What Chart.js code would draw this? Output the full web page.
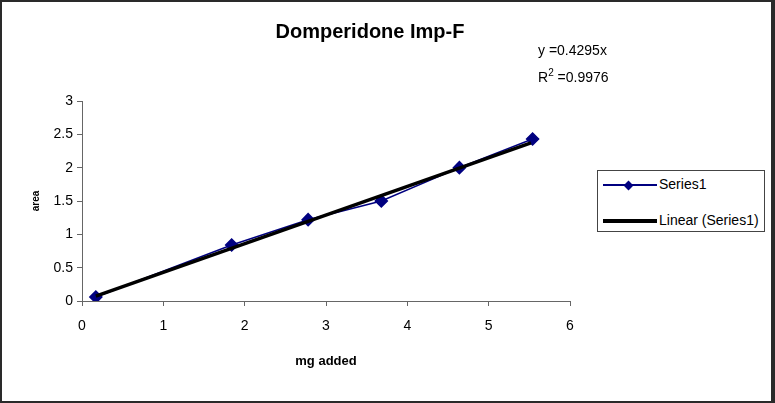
<!DOCTYPE html>
<html>
<head>
<meta charset="utf-8">
<script src="https://cdn.jsdelivr.net/npm/chart.js@4/dist/chart.umd.min.js"></script>
<style>
  body { margin: 0; background: #fff; }
  #wrap { position: relative; width: 775px; height: 403px; font-family: "Liberation Sans", Arial, sans-serif; }
  #frame { position: absolute; left: 0; top: 0; width: 775px; height: 403px; box-sizing: border-box; border: 2px solid #2a2a2a; border-right-width: 4px; pointer-events: none; }
  #title { position: absolute; left: 0; width: 740px; top: 20px; text-align: center; font-weight: bold; font-size: 20px; color: #000; }
  .eq { position: absolute; left: 538px; font-size: 14px; color: #000; }
  #legend { position: absolute; left: 597px; top: 170px; width: 168px; height: 62px; border: 1px solid #444; box-sizing: border-box; background: #fff; font-size: 14px; }
  .item { position: absolute; left: 5px; height: 16px; }
  .line { position: absolute; left: 0; width: 54px; }
  .mark { position: absolute; left: 22px; width: 7px; height: 7px; transform: rotate(45deg); }
  .lab { position: absolute; left: 56px; top: -1px; white-space: nowrap; }
</style>
</head>
<body>
<div id="wrap">
  <canvas id="c" width="775" height="403"></canvas>
  <div id="title">Domperidone Imp-F</div>
  <div class="eq" style="top:42px">y =0.4295x</div>
  <div class="eq" style="top:67px">R<sup style="font-size:10px">2</sup> =0.9976</div>
  <div id="legend"></div>
  <div id="frame"></div>
</div>
<script>
  // measured points
  const mgAdded = [0.17, 1.84, 2.78, 3.68, 4.64, 5.54];
  const areaValues = [0.06, 0.84, 1.22, 1.50, 2.00, 2.43];

  // linear trend line end points (y = 0.4295x)
  const trendX = [0.17, 5.52];
  const trendY = [0.073, 2.371];

  const xTicks = [0, 1, 2, 3, 4, 5, 6];
  const yTicks = [0, 0.5, 1, 1.5, 2, 2.5, 3];

  const seriesPts = mgAdded.map((x, i) => ({ x: x, y: areaValues[i] }));
  const trendPts = trendX.map((x, i) => ({ x: x, y: trendY[i] }));

  const data = {
    datasets: [{
      label: 'Series1',
      data: seriesPts,
      showLine: true,
      borderColor: '#000080',
      backgroundColor: '#000080',
      borderWidth: 1.5,
      pointStyle: 'rectRot',
      pointRadius: 6,
      pointHoverRadius: 6,
      order: 2
    }, {
      label: 'Linear (Series1)',
      data: trendPts,
      showLine: true,
      borderColor: '#000',
      backgroundColor: '#000',
      borderWidth: 3.5,
      pointRadius: 0,
      order: 1
    }]
  };

  const config = {
    type: 'scatter',
    data: data,
    options: {
      responsive: false,
      animation: false,
      layout: { padding: { left: 0, top: 101, right: 205, bottom: 0 } },
      plugins: { legend: { display: false }, tooltip: { enabled: false } },
      scales: {
        x: {
          type: 'linear', min: 0, max: 6,
          afterFit: (s) => { s.height = 102; },
          afterBuildTicks: (s) => { s.ticks = xTicks.map(v => ({ value: v })); },
          grid: { drawOnChartArea: false, drawTicks: true, tickLength: 5, color: '#666' },
          border: { color: '#666', width: 1 },
          ticks: { color: '#000', font: { family: 'Liberation Sans', size: 14 }, padding: 12 },
          title: { display: true, text: 'mg added', color: '#000', font: { family: 'Liberation Sans', size: 13, weight: 'bold' }, padding: { top: 0, bottom: 34 } }
        },
        y: {
          type: 'linear', min: 0, max: 3,
          afterFit: (s) => { s.width = 82; },
          afterBuildTicks: (s) => { s.ticks = yTicks.map(v => ({ value: v })); },
          grid: { drawOnChartArea: false, drawTicks: true, tickLength: 5, color: '#666' },
          border: { color: '#666', width: 1 },
          ticks: { color: '#000', font: { family: 'Liberation Sans', size: 14 }, padding: 4, callback: (v) => String(v) },
          title: { display: true, text: 'area', color: '#000', font: { family: 'Liberation Sans', size: 10, weight: 'bold' }, padding: { top: 30, bottom: 0 } }
        }
      }
    }
  };

  const myChart = new Chart(document.getElementById('c'), config);

  // legend built from the chart datasets
  const leg = document.getElementById('legend');
  myChart.data.datasets.forEach((ds, i) => {
    const it = document.createElement('div');
    it.className = 'item';
    it.style.top = (6 + i * 36) + 'px';
    const ln = document.createElement('div');
    ln.className = 'line';
    ln.style.top = (8 - ds.borderWidth / 2) + 'px';
    ln.style.height = ds.borderWidth + 'px';
    ln.style.background = ds.borderColor;
    it.appendChild(ln);
    if (ds.pointRadius > 0) {
      const mk = document.createElement('div');
      mk.className = 'mark';
      mk.style.top = '4.5px';
      mk.style.background = ds.backgroundColor;
      it.appendChild(mk);
    }
    const lb = document.createElement('div');
    lb.className = 'lab';
    lb.textContent = ds.label;
    it.appendChild(lb);
    leg.appendChild(it);
  });
</script>
</body>
</html>
